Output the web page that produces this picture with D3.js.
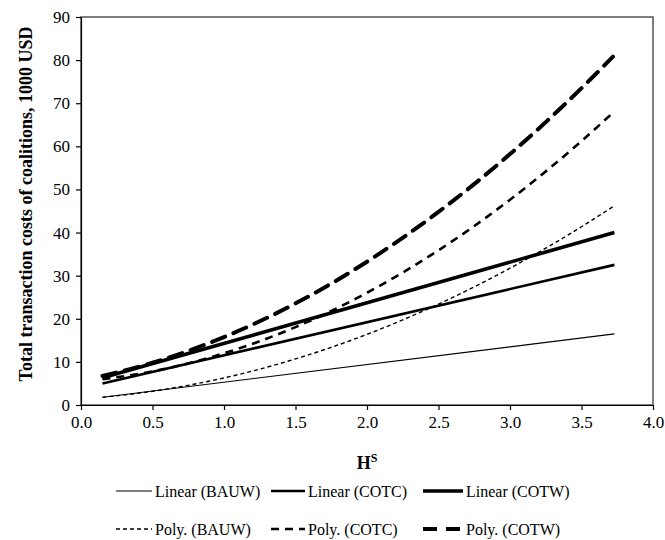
<!DOCTYPE html>
<html><head><meta charset="utf-8">
<script src="https://cdn.jsdelivr.net/npm/d3@7"></script>
<style>body{margin:0;background:#fff}svg{display:block}text{font-family:"Liberation Serif","Times New Roman",serif;fill:#000}</style>
</head><body><svg id="c" width="665" height="540"></svg>
<script>
// data
const xTicks = [0.0,0.5,1.0,1.5,2.0,2.5,3.0,3.5,4.0];
const yTicks = [0,10,20,30,40,50,60,70,80,90];
const linX = [0.15, 3.73];
const linBAUW = [1.8, 16.5];
const linCOTC = [5.0, 32.5];
const linCOTW = [6.3, 40.0];
const polyX = [0.15,0.5,1.0,1.5,2.0,2.5,3.0,3.5,3.72];
const polyBAUW = [1.78,3.18,6.28,10.69,16.39,23.41,31.73,41.35,46.0];
const polyCOTC = [5.98,7.79,12.0,18.07,26.03,35.88,47.61,61.22,67.8];
const polyCOTW = [6.75,9.8,15.75,23.56,33.24,44.79,58.2,73.49,80.8];
const seriesNames = ["Linear (BAUW)","Linear (COTC)","Linear (COTW)","Poly. (BAUW)","Poly. (COTC)","Poly. (COTW)"];

const styles = [
  {w:1.2, dash:null},
  {w:2.6, dash:null},
  {w:3.6, dash:null},
  {w:1.4, dash:"4,3"},
  {w:2.6, dash:"8,6"},
  {w:4, dash:"14,9"}
];
const series = [
  {x:linX, y:linBAUW},{x:linX, y:linCOTC},{x:linX, y:linCOTW},
  {x:polyX, y:polyBAUW},{x:polyX, y:polyCOTC},{x:polyX, y:polyCOTW}
];

const svg = d3.select("#c");
const L=81, R=653, T=17, B=405;
const x = d3.scaleLinear().domain([0,4]).range([L,R]);
const y = d3.scaleLinear().domain([0,90]).range([B,T]);

// frame
svg.append("rect").attr("x",L).attr("y",T).attr("width",R-L).attr("height",B-T)
  .attr("fill","none").attr("stroke","#555").attr("stroke-width",1.5);

const xa = svg.append("g").attr("transform",`translate(0,${B})`)
  .call(d3.axisBottom(x).tickValues(xTicks).tickFormat(d3.format(".1f")).tickSize(5).tickSizeOuter(0));
const ya = svg.append("g").attr("transform",`translate(${L},0)`)
  .call(d3.axisLeft(y).tickValues(yTicks).tickFormat(d3.format("d")).tickSize(5).tickSizeOuter(0));
[xa,ya].forEach(a=>{
  a.select(".domain").attr("stroke","#000").attr("stroke-width",1.2);
  a.selectAll(".tick line").attr("stroke","#000").attr("stroke-width",1.2);
  a.selectAll("text").attr("font-size",17).attr("font-family","Liberation Serif");
});
xa.selectAll("text").attr("y",11);
ya.selectAll("text").attr("x",-11);

// lines
const line = d3.line().x(d=>x(d[0])).y(d=>y(d[1]));
series.forEach((s,i)=>{
  const pts = s.x.map((v,j)=>[v,s.y[j]]);
  const p = svg.append("path").datum(pts).attr("d",line.curve(i>=3?d3.curveMonotoneX:d3.curveLinear))
    .attr("fill","none").attr("stroke","#000").attr("stroke-width",styles[i].w)
    .attr("stroke-linecap", i===5?"round":"butt");
  if(styles[i].dash) p.attr("stroke-dasharray",styles[i].dash);
});

// axis titles
const xt = svg.append("text").attr("x",(L+R)/2).attr("y",469).attr("text-anchor","middle")
  .attr("font-size",18).attr("font-weight","bold");
xt.append("tspan").text("H");
xt.append("tspan").attr("font-size",12).attr("dy",-7).text("S");
svg.append("text").attr("transform",`translate(32,204) rotate(-90)`).attr("text-anchor","middle")
  .attr("font-size",18).attr("font-weight","bold").text("Total transaction costs of coalitions, 1000 USD");

// legend
const legX = [116, 271, 423];
const legSampleW = [36, 34, 40];
const legY = [491, 529];
seriesNames.forEach((n,i)=>{
  const col = i%3, row = Math.floor(i/3);
  const x0 = legX[col], yy = legY[row];
  const p = svg.append("line").attr("x1",x0).attr("x2",x0+legSampleW[col]).attr("y1",yy).attr("y2",yy)
    .attr("stroke","#000").attr("stroke-width",styles[i].w);
  if(styles[i].dash) p.attr("stroke-dasharray",styles[i].dash);
  svg.append("text").attr("x",x0+legSampleW[col]+3).attr("y",yy+6).attr("font-size",16).text(n);
});
</script></body></html>
